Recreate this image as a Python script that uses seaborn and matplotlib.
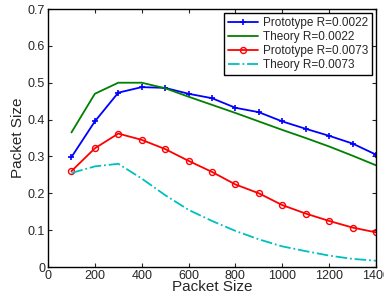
import matplotlib
matplotlib.use("Agg")
import matplotlib.pyplot as plt
import seaborn as sns
import pandas as pd

packet = [100, 200, 300, 400, 500, 600, 700, 800, 900, 1000, 1100, 1200, 1300, 1400]
proto_0022 = [0.298, 0.395, 0.473, 0.488, 0.486, 0.470, 0.458, 0.432, 0.420, 0.395, 0.375, 0.356, 0.335, 0.305]
theory_0022 = [0.365, 0.470, 0.500, 0.500, 0.485, 0.462, 0.440, 0.418, 0.395, 0.372, 0.350, 0.327, 0.302, 0.276]
proto_0073 = [0.260, 0.322, 0.362, 0.345, 0.320, 0.288, 0.258, 0.224, 0.200, 0.168, 0.145, 0.125, 0.107, 0.094]
theory_0073 = [0.255, 0.273, 0.280, 0.240, 0.195, 0.155, 0.125, 0.098, 0.075, 0.056, 0.043, 0.031, 0.022, 0.017]
labels = ["Prototype R=0.0022", "Theory R=0.0022", "Prototype R=0.0073", "Theory R=0.0073"]

sns.set_style("ticks")
plt.rcParams['font.family'] = ['Liberation Sans', 'DejaVu Sans']

fig = plt.figure(figsize=(3.84, 3.0), dpi=100)
ax = fig.add_axes([0.125, 0.11, 0.854, 0.86])

styles = [
    dict(color="#0000ff", marker="+", markersize=5, mew=1.2, ls="-", mfc="#0000ff"),
    dict(color="#008000", marker="", ls="-"),
    dict(color="#ff0000", marker="o", markersize=4.3, mfc="none", mew=1.0, ls="-"),
    dict(color="#00bfbf", marker="", ls="-."),
]
series = [proto_0022, theory_0022, proto_0073, theory_0073]
for lab, ys, st in zip(labels, series, styles):
    df = pd.DataFrame({"x": packet, "y": ys})
    n = len(ax.lines)
    sns.lineplot(data=df, x="x", y="y", ax=ax, color=st["color"], lw=1.3, legend=False)
    ln = ax.lines[n]
    ln.set_label(lab)
    ln.set_linestyle(st["ls"])
    ln.set_marker(st["marker"])
    if st["marker"]:
        ln.set_markersize(st["markersize"])
        ln.set_markeredgewidth(st["mew"])
        ln.set_markeredgecolor(st["color"])
        ln.set_markerfacecolor(st["mfc"])

ax.set_xlim(0, 1400)
ax.set_ylim(0, 0.7)
ax.set_xticks(range(0, 1401, 200))
ax.set_yticks([0, 0.1, 0.2, 0.3, 0.4, 0.5, 0.6, 0.7])
ax.set_yticklabels(["0", "0.1", "0.2", "0.3", "0.4", "0.5", "0.6", "0.7"])
ax.tick_params(direction="in", top=True, right=True, labelsize=9, length=3, width=0.8, pad=2)
ax.set_xlabel("Packet Size", fontsize=11, labelpad=-1)
ax.set_ylabel("Packet Size", fontsize=11, labelpad=2)
for s in ax.spines.values():
    s.set_visible(True)
    s.set_linewidth(1.0)
    s.set_color("black")

leg = ax.legend(loc="upper right", fontsize=8.5, frameon=True, fancybox=False,
                edgecolor="black", borderpad=0.3, labelspacing=0.18,
                handlelength=2.6, handletextpad=0.4, borderaxespad=0.35)
leg.get_frame().set_linewidth(1.0)
leg.get_frame().set_alpha(1)

fig.savefig("out.png", dpi=100)
